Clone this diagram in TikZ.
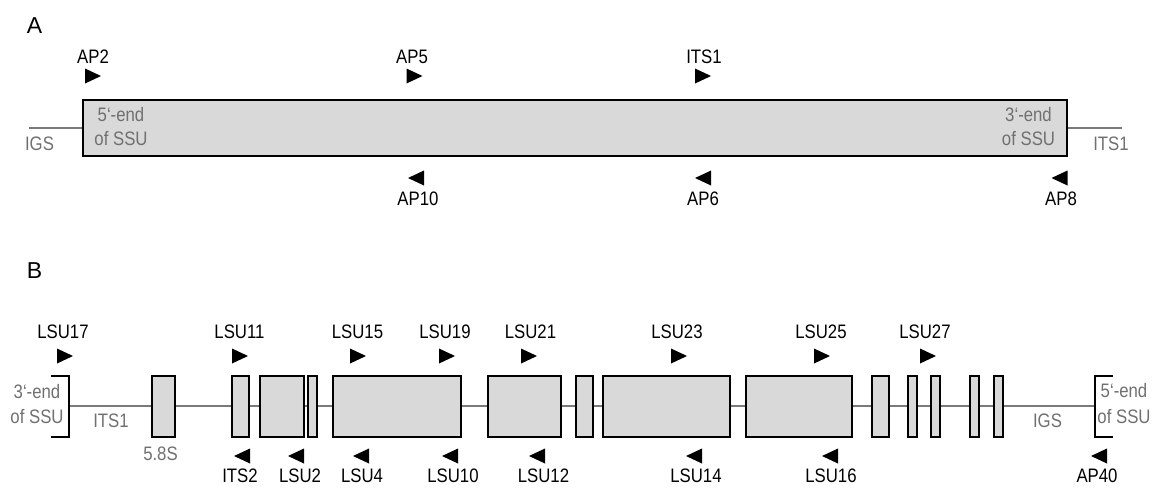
\documentclass[tikz,border=0pt]{standalone}
\usepackage{fontspec}
\setmainfont{Liberation Sans}
\newfontfamily\labelfont{Liberation Sans}[FakeStretch=0.86]
\definecolor{exonfill}{HTML}{D9D9D9}
\definecolor{txtgray}{HTML}{707070}
\definecolor{linegray}{HTML}{7A7A7A}
\begin{document}
\begin{tikzpicture}[x=1pt,y=-1pt,
  lbl/.style={font=\labelfont\fontsize{19.5}{22}\selectfont, inner sep=0pt, anchor=base},
  glbl/.style={lbl, text=txtgray},
  panel/.style={font=\fontsize{23}{26}\selectfont, inner sep=0pt, anchor=base},
  exon/.style={draw=black, line width=1.8pt, fill=exonfill},
  spacer/.style={draw=linegray, line width=1.6pt},
  bracket/.style={draw=black, line width=1.8pt},
  fwd/.pic={\fill (-8,-7.5) -- (8,0) -- (-8,7.5) -- cycle;},
  rev/.pic={\fill (8,-7.5) -- (-8,0) -- (8,7.5) -- cycle;},
]
\useasboundingbox (0,0) rectangle (1159,488);

% ---------------- Panel A: SSU gene ----------------
\node[panel] (pA) at (34.5,33) {A};

\coordinate (igsA) at (29,128);
\coordinate (itsA) at (1122,128);
\draw[spacer] (igsA) -- (83,128);
\draw[spacer] (1067,128) -- (itsA);
\draw[exon] (83,100) rectangle (1067,156);

\node[glbl] (tIGSa)  at (39.5,150) {IGS};
\node[glbl] (tITS1a) at (1111,150) {ITS1};
\node[glbl] (t5a1) at (121,121) {5‘-end};
\node[glbl] (t5a2) at (121,145) {of SSU};
\node[glbl] (t3a1) at (1028.5,121) {3‘-end};
\node[glbl] (t3a2) at (1028.5,145) {of SSU};

% forward primers
\pic at (93,76) {fwd};    \node[lbl] (ap2)  at (93,63)  {AP2};
\pic at (414.5,76) {fwd}; \node[lbl] (ap5)  at (412,63) {AP5};
\pic at (703,76) {fwd};   \node[lbl] (its1) at (704,63) {ITS1};
% reverse primers
\pic at (416,178) {rev};  \node[lbl] (ap10) at (418,205) {AP10};
\pic at (703,178) {rev};  \node[lbl] (ap6)  at (703,205) {AP6};
\pic at (1059.5,178) {rev}; \node[lbl] (ap8) at (1061,205) {AP8};

% ---------------- Panel B: ITS-LSU region ----------------
\node[panel] (pB) at (34.5,278) {B};

\coordinate (lb) at (69,406);
\coordinate (rb) at (1095,406);
\draw[spacer] (lb) -- (rb);
\draw[bracket] (51,376) -- (69,376) -- (69,437) -- (51,437);
\draw[bracket] (1113,376) -- (1095,376) -- (1095,437) -- (1113,437);

% rRNA blocks
\foreach \xa/\xb in {152/175, 232/249, 260/304, 308/317, 333/461, 488/561,
                     576/593, 603/730, 746/852, 872/889, 908/917, 931/940,
                     970/979, 994/1003}
  \draw[exon] (\xa,376) rectangle (\xb,437);

\node[glbl] (t3b1) at (37,398) {3‘-end};
\node[glbl] (t3b2) at (37,423) {of SSU};
\node[glbl] (t5b1) at (1124,397) {5‘-end};
\node[glbl] (t5b2) at (1124,423) {of SSU};
\node[glbl] (tITS1b) at (111,427) {ITS1};
\node[glbl] (t58s)   at (160.5,460) {5.8S};
\node[glbl] (tIGSb)  at (1047.5,427) {IGS};

% forward primers
\pic at (65,356)  {fwd}; \node[lbl] (lsu17) at (63,338)  {LSU17};
\pic at (240,356) {fwd}; \node[lbl] (lsu11) at (239.5,338) {LSU11};
\pic at (358,356) {fwd}; \node[lbl] (lsu15) at (357.5,338) {LSU15};
\pic at (447,356) {fwd}; \node[lbl] (lsu19) at (445,338) {LSU19};
\pic at (529,356) {fwd}; \node[lbl] (lsu21) at (530.5,338) {LSU21};
\pic at (679,356) {fwd}; \node[lbl] (lsu23) at (677,338) {LSU23};
\pic at (822,356) {fwd}; \node[lbl] (lsu25) at (821,338) {LSU25};
\pic at (928,356) {fwd}; \node[lbl] (lsu27) at (925,338) {LSU27};
% reverse primers
\pic at (242,456) {rev};  \node[lbl] (its2)  at (240,482) {ITS2};
\pic at (296,456) {rev};  \node[lbl] (lsu2)  at (300,482) {LSU2};
\pic at (361,456) {rev};  \node[lbl] (lsu4)  at (362,482) {LSU4};
\pic at (450,456) {rev};  \node[lbl] (lsu10) at (453,482) {LSU10};
\pic at (537,456) {rev};  \node[lbl] (lsu12) at (543.5,482) {LSU12};
\pic at (694,456) {rev};  \node[lbl] (lsu14) at (696,482) {LSU14};
\pic at (830,456) {rev};  \node[lbl] (lsu16) at (831,482) {LSU16};
\pic at (1099,456) {rev}; \node[lbl] (ap40)  at (1097,482) {AP40};
\end{tikzpicture}
\end{document}
